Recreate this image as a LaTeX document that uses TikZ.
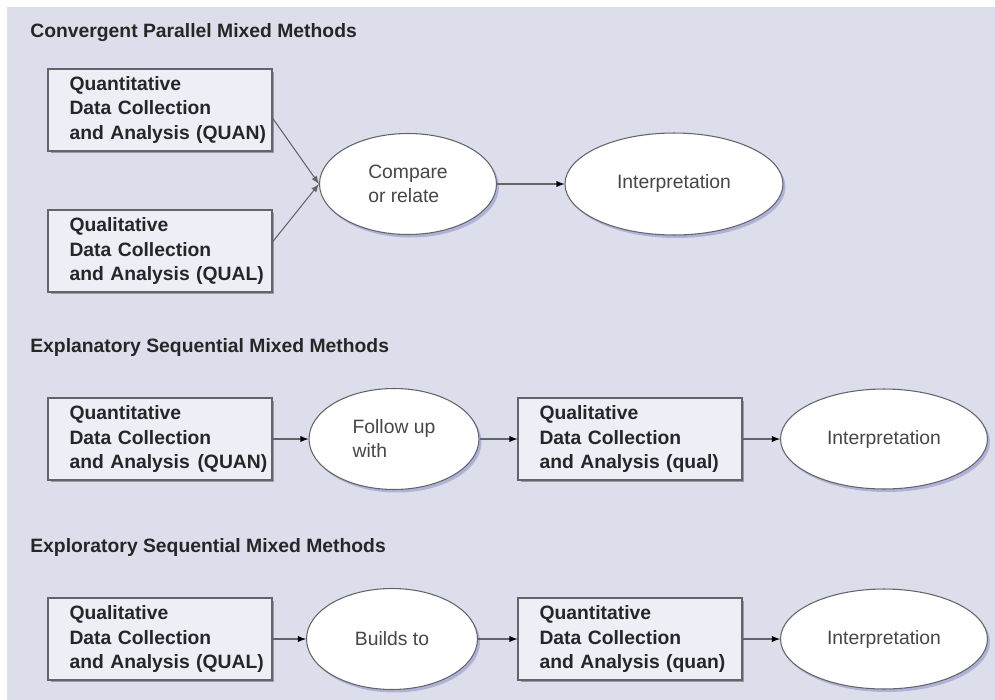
\documentclass[tikz,border=0pt]{standalone}
\usepackage{fontspec}
\setmainfont{Liberation Sans}
\usetikzlibrary{shapes.geometric,shadows}

\definecolor{bgcol}{RGB}{220,222,236}
\definecolor{boxcol}{RGB}{237,238,246}
\definecolor{linecol}{RGB}{100,100,104}
\definecolor{boxtext}{RGB}{38,38,40}
\definecolor{ovaltext}{RGB}{70,70,74}

\tikzset{
  method/.style={draw=linecol, fill=boxcol, line width=0.6pt,
    text width=3.62cm, minimum height=1.64cm, inner xsep=0.43cm,
    align=left, text=boxtext, font=\fontsize{11}{13.7}\selectfont\bfseries,
    drop shadow={shadow xshift=0.05cm, shadow yshift=-0.05cm, opacity=0.3, fill=black}},
  stage/.style={ellipse, draw=linecol, fill=white, line width=0.6pt,
    inner sep=0pt, align=left, text=ovaltext, font=\fontsize{11}{13.7}\selectfont,
    drop shadow={shadow xshift=0.05cm, shadow yshift=-0.06cm, opacity=0.2, fill=blue!50!black}},
  heading/.style={anchor=west, inner sep=0pt, text=black!85,
    font=\fontsize{11}{13}\selectfont\bfseries},
  link/.style={draw=linecol, line width=0.6pt}
}

\begin{document}
\begin{tikzpicture}[x=0.02cm,y=-0.02cm]
  \useasboundingbox (0,0) rectangle (995,700);
  \fill[bgcol] (7,7) rectangle (995,700);

  % convergent parallel
  \node[heading] (T1) at (30,33) {Convergent Parallel Mixed Methods};
  \node[method] (Quan1) at (160,110) {Quantitative\\Data Collection\\\mbox{and Analysis (QUAN)}};
  \node[method] (Qual1) at (160,251) {Qualitative\\Data Collection\\\mbox{and Analysis (QUAL)}};
  \node[stage, minimum width=3.54cm, minimum height=2.02cm] (Cmp) at (408,184) {Compare\\or relate};
  \node[stage, minimum width=4.36cm, minimum height=2.04cm] (Int1) at (674,184) {Interpretation};

  % explanatory sequential
  \node[heading] (T2) at (30,347) {Explanatory Sequential Mixed Methods};
  \node[method] (Quan2) at (160,439) {Quantitative\\Data Collection\\\mbox{and Analysis\hspace{0.4em}(QUAN)}};
  \node[stage, minimum width=3.4cm, minimum height=2.02cm] (Fol) at (394,439) {Follow up\\with};
  \node[method] (Qual2) at (630,439) {Qualitative\\Data Collection\\\mbox{and Analysis (qual)}};
  \node[stage, minimum width=4.14cm, minimum height=2cm] (Int2) at (884,439) {Interpretation};

  % exploratory sequential
  \node[heading] (T3) at (30,547) {Exploratory Sequential Mixed Methods};
  \node[method] (Qual3) at (160,639) {Qualitative\\Data Collection\\\mbox{and Analysis (QUAL)}};
  \node[stage, minimum width=3.42cm, minimum height=2.02cm] (Bld) at (392,639) {Builds to};
  \node[method] (Quan3) at (630,639) {Quantitative\\Data Collection\\\mbox{and Analysis (quan)}};
  \node[stage, minimum width=4.14cm, minimum height=2cm] (Int3) at (884,639) {Interpretation};

  \draw[link,-latex] ([yshift=-0.16cm]Quan1.east) -- (Cmp.west);
  \draw[link,-latex] ([yshift=0.18cm]Qual1.east) -- (Cmp.west);
  \draw[link,-latex]
  (Cmp) edge (Int1)
  (Quan2) edge (Fol)
  (Fol) edge (Qual2)
  (Qual2) edge (Int2)
  (Qual3) edge (Bld)
  (Bld) edge (Quan3)
  (Quan3) edge (Int3);
\end{tikzpicture}
\end{document}
